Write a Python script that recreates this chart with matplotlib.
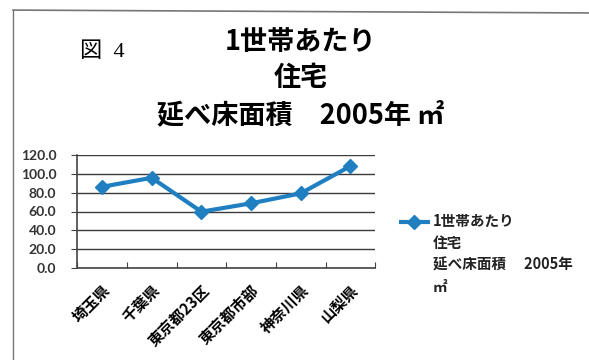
import matplotlib
matplotlib.use('Agg')
import matplotlib.pyplot as plt
from matplotlib.lines import Line2D

plt.rcParams['font.family'] = ['Lato', 'Noto Sans CJK JP', 'DejaVu Sans']
cjk = ['Noto Sans CJK JP', 'DejaVu Sans']

# 1世帯あたり住宅延べ床面積 (2005年, ㎡)
regions = ['埼玉県', '千葉県', '東京都23区', '東京都市部', '神奈川県', '山梨県']
floor_area = [86.3, 95.9, 59.8, 68.7, 79.3, 108.3]
series_name = '1世帯あたり\n住宅\n延べ床面積　2005年 ㎡'
legend_label = '1世帯あたり\n住宅\n延べ床面積　 2005年\n㎡'
y_ticks = [0, 20, 40, 60, 80, 100, 120]

blue = '#1f7fc1'

fig = plt.figure(figsize=(5.89, 3.6), dpi=100)
ax = fig.add_axes([0.131, 0.256, 0.506, 0.313])

x = list(range(len(regions)))
ax.plot(x, floor_area, color=blue, lw=3, marker='D', markersize=7, zorder=3)

ax.set_xlim(-0.5, len(regions) - 0.5)
ax.set_ylim(0, 120)
ax.set_yticks(y_ticks)
ax.set_yticklabels([f'{v:.1f}' for v in y_ticks], fontsize=10, fontweight='bold',
                   color='#333333')
ax.yaxis.grid(True, color='#3a3a3a', lw=1)
ax.set_axisbelow(True)

# category boundaries carry the tick marks
ax.set_xticks([i - 0.5 for i in range(len(regions) + 1)])
ax.set_xticklabels([])
ax.set_xticks(x, minor=True)
ax.set_xticklabels(regions, minor=True, rotation=45, ha='right',
                   rotation_mode='anchor', fontsize=11, fontweight='bold', family=cjk)
ax.tick_params(axis='x', which='minor', length=0, pad=10)
ax.tick_params(axis='x', which='major', length=4, direction='in', color='#444444')
ax.tick_params(axis='y', length=4, direction='out', color='#444444', pad=11)

for side in ['top', 'right']:
    ax.spines[side].set_visible(False)
for side in ['left', 'bottom']:
    ax.spines[side].set_color('#444444')
    ax.spines[side].set_linewidth(1.2)

# legend: key drawn level with the first line of the series name
fig.add_artist(Line2D([0.677, 0.730], [0.383, 0.383], transform=fig.transFigure,
                      color=blue, lw=3, solid_capstyle='butt'))
fig.add_artist(Line2D([0.7035], [0.383], transform=fig.transFigure,
                      color=blue, marker='D', markersize=7, lw=0))
fig.text(0.735, 0.408, legend_label, ha='left', va='top', fontsize=10.5,
         fontweight='bold', family=cjk, linespacing=1.45, color='#222222')

fig.text(0.51, 0.782, series_name, ha='center', va='center', multialignment='center',
         fontsize=19.5, fontweight='bold', family=cjk, linespacing=1.4)
fig.text(0.135, 0.855, '図  4', ha='left', va='center', fontsize=16,
         family=['Liberation Serif', 'Noto Sans CJK JP'])

# page frame
fig.add_artist(Line2D([0.022, 1.0], [0.972, 0.964], transform=fig.transFigure,
                      color='#777777', lw=1.2))
fig.add_artist(Line2D([0.022, 0.022], [0.972, 0.0], transform=fig.transFigure,
                      color='#777777', lw=1.0))

fig.savefig('out.png', dpi=100)
